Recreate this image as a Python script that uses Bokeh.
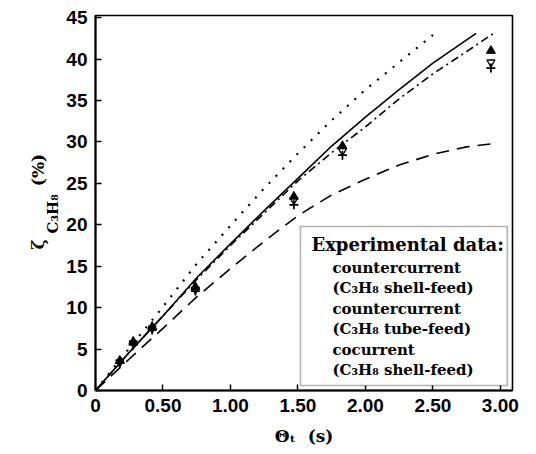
import math
from bokeh.plotting import figure
from bokeh.models import Range1d, BoxAnnotation, Label, FixedTicker, Title
from bokeh.embed import file_html
from bokeh.resources import INLINE

# ---- model curves ----
x_solid = [0, 0.25, 0.5, 0.75, 1.0, 1.25, 1.5, 1.75, 2.0, 2.25, 2.5, 2.82]
y_solid = [0, 4.6, 9.0, 13.6, 17.7, 21.7, 25.6, 29.5, 33.0, 36.3, 39.5, 43.1]

x_dot = [0, 0.25, 0.5, 0.75, 1.0, 1.25, 1.5, 1.75, 2.0, 2.25, 2.5]
y_dot = [0, 5.1, 10.1, 15.3, 19.9, 24.4, 28.6, 32.6, 36.3, 39.6, 42.9]

x_dashdot = [0, 0.25, 0.5, 0.75, 1.0, 1.25, 1.5, 1.75, 2.0, 2.25, 2.5, 2.75, 2.96]
y_dashdot = [0, 4.6, 9.0, 13.4, 17.5, 21.4, 25.3, 28.7, 31.8, 35.2, 38.2, 40.9, 43.2]

x_dash = [0, 0.25, 0.5, 0.75, 1.0, 1.25, 1.5, 1.75, 2.0, 2.25, 2.5, 2.75, 2.96]
y_dash = [0, 3.8, 7.5, 11.3, 14.7, 18.0, 21.1, 23.6, 25.5, 27.2, 28.5, 29.4, 29.8]

# ---- experimental data ----
x_exp = [0.18, 0.28, 0.42, 0.74, 1.47, 1.83, 2.93]
y_shell = [3.6, 5.9, 7.7, 12.5, 23.4, 29.5, 41.0]
y_tube = [3.3, 5.5, 7.3, 12.0, 22.4, 28.4, 38.9]
y_cocur = [3.4, 5.7, 7.5, 12.2, 23.0, 28.9, 39.6]

x_ticks = [0, 0.5, 1.0, 1.5, 2.0, 2.5, 3.0]
x_tick_labels = ["0", "0.50", "1.00", "1.50", "2.00", "2.50", "3.00"]
y_ticks = [0, 5, 10, 15, 20, 25, 30, 35, 40, 45]

x_title = "\u0398\u209c\u00a0\u00a0(s)"
y_title_main = "\u03b6" + "\u00a0" * 9 + "(%)"
y_title_sub = "C\u2083H\u2088"

legend_title = "Experimental data:"
legend_lines = [("countercurrent", "(C\u2083H\u2088  shell-feed)"),
                ("countercurrent", "(C\u2083H\u2088  tube-feed)"),
                ("cocurrent", "(C\u2083H\u2088  shell-feed)")]

serif = "DejaVu Serif"
sans = "Liberation Sans"

# ---- figure ----
p = figure(width=530, height=448, output_backend="svg", toolbar_location=None,
           x_range=Range1d(0, 3.09), y_range=Range1d(0, 45.25),
           min_border_left=95, min_border_right=18, min_border_top=15, min_border_bottom=58)
p.background_fill_color = "white"
p.border_fill_color = "white"
p.grid.visible = False
p.outline_line_color = "black"
p.outline_line_width = 1.6

for ax in (p.xaxis[0], p.yaxis[0]):
    ax.axis_line_width = 2
    ax.axis_line_color = "black"
    ax.major_tick_in = 6
    ax.major_tick_out = 0
    ax.major_tick_line_width = 1.5
    ax.major_tick_line_color = "black"
    ax.minor_tick_in = 0
    ax.minor_tick_out = 0
    ax.major_label_text_font = sans
    ax.major_label_text_font_style = "bold"
    ax.major_label_text_font_size = "19px"
    ax.major_label_text_color = "black"
    ax.major_label_standoff = 8

p.xaxis.ticker = FixedTicker(ticks=x_ticks)
p.xaxis.major_label_overrides = {t: l for t, l in zip(x_ticks, x_tick_labels)}
p.yaxis.ticker = FixedTicker(ticks=y_ticks)

p.xaxis.axis_label = x_title
p.xaxis.axis_label_text_font = serif
p.xaxis.axis_label_text_font_style = "bold"
p.xaxis.axis_label_text_font_size = "17px"
p.xaxis.axis_label_text_color = "black"
p.xaxis.axis_label_standoff = 11

# y title pieces as side titles (subscript closer to the axis)
p.add_layout(Title(text=y_title_sub, align="left", offset=157, text_font=serif,
                   text_font_style="bold", text_font_size="15px", text_color="black",
                   standoff=0, vertical_align="top"), "left")
p.add_layout(Title(text=y_title_main, align="left", offset=141, text_font=serif,
                   text_font_style="bold", text_font_size="17px", text_color="black",
                   standoff=-8, vertical_align="bottom"), "left")

# curves
p.line(x_dot, y_dot, line_color="black", line_width=2.2, line_dash="2 8")
p.line(x_solid, y_solid, line_color="black", line_width=1.6)
p.line(x_dashdot, y_dashdot, line_color="black", line_width=1.6, line_dash="8 4 2 4")
p.line(x_dash, y_dash, line_color="black", line_width=1.6, line_dash="13 8")

# points
p.scatter(x_exp, y_cocur, marker="inverted_triangle", size=8, fill_color="white",
          line_color="black", line_width=1.3)
p.scatter(x_exp, y_tube, marker="cross", size=9, line_color="black", line_width=1.8)
p.scatter(x_exp, y_shell, marker="triangle", size=9, fill_color="black", line_color="black")

# pixel->data helpers for the legend layout (frame: x0=95px, 135px/unit; y0=390px, 8.29px/unit)
def dx(px):
    return (px - 95) / 135.0

def dy(py):
    return (390 - py) / 8.29

# legend box
p.add_layout(BoxAnnotation(left=dx(300), right=dx(507), top=dy(226), bottom=dy(385),
                           fill_color="white", fill_alpha=1.0, line_color="black",
                           line_width=1.6, level="overlay"))

p.add_layout(Label(x=dx(311), y=dy(244), text=legend_title, text_font=serif,
                   text_font_style="bold", text_font_size="18px", text_color="black",
                   text_baseline="middle", text_align="left", level="overlay"))
row_y = [(267, 287), (308, 328), (349, 369)]
for (l1, l2), (y1, y2) in zip(legend_lines, row_y):
    for txt, yy in ((l1, y1), (l2, y2)):
        p.add_layout(Label(x=dx(332), y=dy(yy), text=txt, text_font=serif,
                           text_font_style="bold", text_font_size="15px", text_color="black",
                           text_baseline="middle", level="overlay"))

p.scatter([dx(315)], [dy(267)], marker="triangle", size=8, fill_color="black",
          line_color="black", level="overlay")
p.scatter([dx(315)], [dy(308)], marker="cross", size=8, line_color="black", line_width=1.6,
          level="overlay")
p.scatter([dx(315)], [dy(350)], marker="inverted_triangle", size=8, fill_color="white",
          line_color="black", line_width=1.3, level="overlay")

open("out.html", "w").write(file_html(p, INLINE))
